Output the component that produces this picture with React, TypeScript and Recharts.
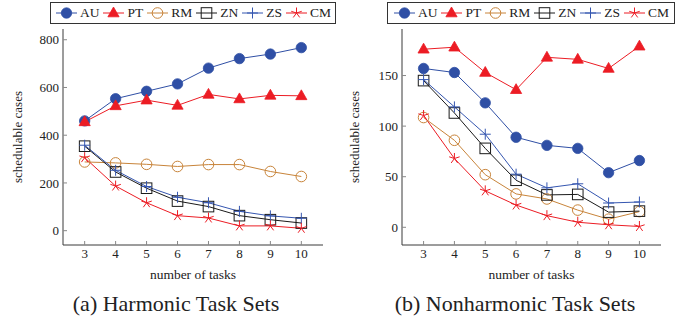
import React from "react";
import { LineChart, Line, XAxis, YAxis } from "recharts";

// number of tasks on the x axis
const tasks = [3, 4, 5, 6, 7, 8, 9, 10];

// (a) harmonic task sets
const harmAU = [460, 553, 584, 615, 681, 721, 740, 767];
const harmPT = [456, 523, 547, 525, 571, 552, 567, 565];
const harmRM = [288, 284, 278, 269, 277, 277, 248, 227];
const harmZN = [354, 246, 178, 124, 101, 63, 46, 32];
const harmZS = [358, 253, 185, 140, 117, 81, 62, 52];
const harmCM = [306, 187, 117, 63, 53, 20, 20, 10];

// (b) nonharmonic task sets
const nonAU = [157, 153, 123, 89, 81, 78, 54, 66];
const nonPT = [176, 178, 153, 136, 168, 166, 157, 179];
const nonRM = [108.5, 86, 52, 33, 28, 17, 8, 15.5];
const nonZN = [145, 113, 78, 46.5, 32, 32.5, 15, 16];
const nonZS = [146, 119, 92, 52.5, 39, 43, 24, 25];
const nonCM = [110.5, 68, 36, 22, 11.5, 5, 2.5, 0.8];

const harmYTicks = [0, 200, 400, 600, 800];
const nonYTicks = [0, 50, 100, 150];

const BLUE = "#2f4fa5";
const RED = "#ec1c24";
const ORANGE = "#c8843a";
const BLACK = "#1a1a1a";
const FONT = "'Liberation Serif', 'DejaVu Serif', serif";

type Kind = "circleFill" | "triangle" | "circle" | "square" | "plus" | "star";

const series: { key: string; name: string; color: string; kind: Kind }[] = [
  { key: "AU", name: "AU", color: BLUE, kind: "circleFill" },
  { key: "PT", name: "PT", color: RED, kind: "triangle" },
  { key: "RM", name: "RM", color: ORANGE, kind: "circle" },
  { key: "ZN", name: "ZN", color: BLACK, kind: "square" },
  { key: "ZS", name: "ZS", color: "#3556b0", kind: "plus" },
  { key: "CM", name: "CM", color: RED, kind: "star" },
];

function buildRows(cols: Record<string, number[]>) {
  return tasks.map((n, i) => {
    const row: Record<string, number> = { n };
    Object.keys(cols).forEach((k) => (row[k] = cols[k][i]));
    return row;
  });
}

const harmRows = buildRows({ AU: harmAU, PT: harmPT, RM: harmRM, ZN: harmZN, ZS: harmZS, CM: harmCM });
const nonRows = buildRows({ AU: nonAU, PT: nonPT, RM: nonRM, ZN: nonZN, ZS: nonZS, CM: nonCM });

function Marker({ kind, cx, cy, color }: { kind: Kind; cx: number; cy: number; color: string }) {
  if (cx == null || cy == null) return null;
  switch (kind) {
    case "circleFill":
      return <circle cx={cx} cy={cy} r={5.2} fill={color} stroke={color} strokeWidth={0.8} />;
    case "triangle":
      return (
        <path
          d={`M ${cx} ${cy - 6} L ${cx + 5.6} ${cy + 3.8} L ${cx - 5.6} ${cy + 3.8} Z`}
          fill={color}
          stroke={color}
          strokeWidth={0.8}
        />
      );
    case "circle":
      return <circle cx={cx} cy={cy} r={5.3} fill="none" stroke={color} strokeWidth={1} />;
    case "square":
      return <rect x={cx - 5.3} y={cy - 5.3} width={10.6} height={10.6} fill="none" stroke={color} strokeWidth={1} />;
    case "plus":
      return (
        <path
          d={`M ${cx - 5.5} ${cy} L ${cx + 5.5} ${cy} M ${cx} ${cy - 5.5} L ${cx} ${cy + 5.5}`}
          stroke={color}
          strokeWidth={1}
        />
      );
    case "star": {
      let d = "";
      for (let k = 0; k < 5; k++) {
        const a = (-90 + k * 72) * (Math.PI / 180);
        d += `M ${cx} ${cy} L ${cx + 5.5 * Math.cos(a)} ${cy + 5.5 * Math.sin(a)} `;
      }
      return <path d={d} stroke={color} strokeWidth={1} fill="none" />;
    }
  }
  return null;
}

function LegendBox({ left, width }: { left: number; width: number }) {
  return (
    <div
      style={{
        position: "absolute",
        left,
        top: 2,
        width,
        height: 22,
        boxSizing: "border-box",
        border: "1px solid #333",
        display: "flex",
        alignItems: "center",
        justifyContent: "center",
        gap: 3,
        fontFamily: FONT,
        fontSize: 13.5,
        color: "#222",
        background: "#fff",
      }}
    >
      {series.map((s) => (
        <div key={s.key} style={{ display: "flex", alignItems: "center" }}>
          <svg width={23} height={16}>
            <line x1={1} y1={8} x2={22} y2={8} stroke={s.color} strokeWidth={1} />
            <Marker kind={s.kind} cx={11.5} cy={8} color={s.color} />
          </svg>
          <span style={{ marginLeft: 2 }}>{s.name}</span>
        </div>
      ))}
    </div>
  );
}

const tickStyle = { fill: "#222", fontSize: 13, fontFamily: FONT };

function Panel({
  left,
  width,
  yWidth,
  rightMargin,
  rows,
  domain,
  yTicks,
  legendLeft,
  legendWidth,
  titleX,
  caption,
  captionX,
}: {
  left: number;
  width: number;
  yWidth: number;
  rightMargin: number;
  rows: Record<string, number>[];
  domain: [number, number];
  yTicks: number[];
  legendLeft: number;
  legendWidth: number;
  titleX: number;
  caption: string;
  captionX: number;
}) {
  const plotCenter = yWidth + (width - yWidth - rightMargin) / 2;
  return (
    <div style={{ position: "absolute", left, top: 0, width, height: 320 }}>
      <LegendBox left={legendLeft} width={legendWidth} />
      <div style={{ position: "absolute", left: 0, top: 0 }}>
        <LineChart width={width} height={265} data={rows} margin={{ top: 29, right: rightMargin, bottom: 0, left: 0 }}>
          <XAxis
            dataKey="n"
            type="number"
            domain={[2.3, 10.7]}
            ticks={tasks}
            allowDataOverflow
            height={20}
            tickSize={-4}
            tickMargin={8}
            tick={tickStyle}
            axisLine={{ stroke: "#3a3a3a", strokeWidth: 1 }}
            tickLine={{ stroke: "#888" }}
          />
          <XAxis
            xAxisId="top"
            orientation="top"
            dataKey="n"
            type="number"
            domain={[2.3, 10.7]}
            ticks={tasks}
            allowDataOverflow
            height={0}
            tickSize={-4}
            tick={false}
            axisLine={{ stroke: "#3a3a3a", strokeWidth: 1 }}
            tickLine={{ stroke: "#888" }}
          />
          <YAxis
            type="number"
            domain={domain}
            ticks={yTicks}
            allowDataOverflow
            width={yWidth}
            tickSize={-4}
            tickMargin={8}
            tick={tickStyle}
            axisLine={{ stroke: "#3a3a3a", strokeWidth: 1 }}
            tickLine={{ stroke: "#888" }}
          />
          <YAxis
            yAxisId="right"
            orientation="right"
            type="number"
            domain={domain}
            ticks={yTicks}
            allowDataOverflow
            width={0}
            tickSize={-4}
            tick={false}
            axisLine={{ stroke: "#3a3a3a", strokeWidth: 1 }}
            tickLine={{ stroke: "#888" }}
          />
          {series.map((s) => (
            <Line
              key={s.key}
              dataKey={s.key}
              stroke={s.color}
              strokeWidth={1}
              isAnimationActive={false}
              dot={(p: any) => <Marker key={`${s.key}-${p.index}`} kind={s.kind} cx={p.cx} cy={p.cy} color={s.color} />}
              activeDot={false}
            />
          ))}
        </LineChart>
      </div>
      <div
        style={{
          position: "absolute",
          left: titleX - 80,
          top: 137 - 10,
          width: 160,
          height: 20,
          lineHeight: "20px",
          textAlign: "center",
          transform: "rotate(-90deg)",
          fontFamily: FONT,
          fontSize: 13,
          color: "#222",
        }}
      >
        schedulable cases
      </div>
      <div
        style={{
          position: "absolute",
          left: plotCenter - 80,
          top: 265,
          width: 160,
          height: 20,
          lineHeight: "20px",
          textAlign: "center",
          fontFamily: FONT,
          fontSize: 13.5,
          color: "#222",
        }}
      >
        number of tasks
      </div>
      <div
        style={{
          position: "absolute",
          left: captionX - 150,
          top: 290,
          width: 300,
          height: 28,
          lineHeight: "28px",
          textAlign: "center",
          fontFamily: FONT,
          fontSize: 22,
          color: "#222",
        }}
      >
        {caption}
      </div>
    </div>
  );
}

export default function App() {
  return (
    <div style={{ position: "absolute", left: 0, top: 0, width: 697, height: 320, background: "#fff", overflow: "hidden" }}>
      <Panel
        left={0}
        width={345}
        yWidth={63}
        rightMargin={22}
        rows={harmRows}
        domain={[-60, 845]}
        yTicks={harmYTicks}
        legendLeft={50}
        legendWidth={286}
        titleX={18}
        caption="(a) Harmonic Task Sets"
        captionX={176}
      />
      <Panel
        left={345}
        width={352}
        yWidth={57}
        rightMargin={36}
        rows={nonRows}
        domain={[-17.5, 196]}
        yTicks={nonYTicks}
        legendLeft={42}
        legendWidth={288}
        titleX={10}
        caption="(b) Nonharmonic Task Sets"
        captionX={170}
      />
    </div>
  );
}
